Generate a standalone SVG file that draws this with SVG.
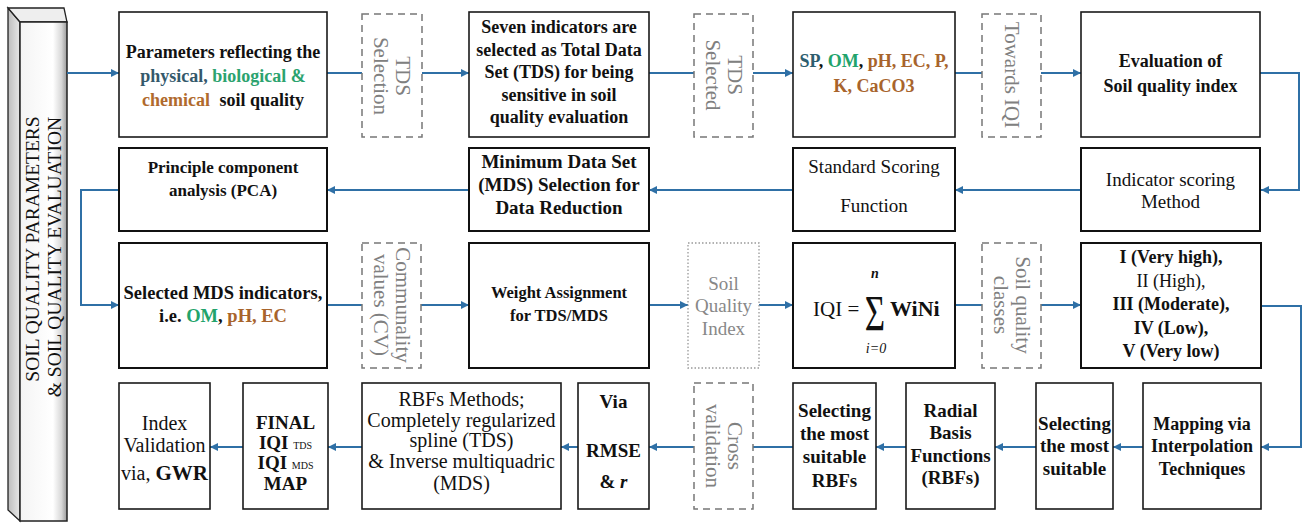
<svg xmlns="http://www.w3.org/2000/svg" width="1304" height="525" viewBox="0 0 1304 525">
<style>
.bx{fill:#fff;stroke:#1a1a1a;stroke-width:1.6}
.bx2{fill:#fff;stroke:#111;stroke-width:2}
.ds{fill:#fff;stroke:#777;stroke-width:1.5;stroke-dasharray:7 5}
.dt{fill:#fff;stroke:#999;stroke-width:1.3;stroke-dasharray:1.5 2}
.cn{fill:none;stroke:#2f70a6;stroke-width:2}
text{font-family:"Liberation Serif","Times New Roman",serif;fill:#111;text-anchor:middle}
.b{font-weight:bold}
.g{fill:#808080;font-size:21px}
.gq{fill:#888;font-size:19px}
.br{fill:#a8642c}
.f18{font-size:18px}
.f19{font-size:19px}
.f20{font-size:20px}
</style>
<defs>
<marker id="ah" viewBox="0 0 10 10" refX="10" refY="5" markerWidth="9" markerHeight="8" markerUnits="userSpaceOnUse" orient="auto">
<path d="M0,0 L10,5 L0,10 z" fill="#2f70a6"/>
</marker>
<linearGradient id="front" x1="0" y1="0" x2="1" y2="0">
<stop offset="0" stop-color="#f4f4f4"/>
<stop offset="0.7" stop-color="#ffffff"/>
<stop offset="0.88" stop-color="#d8d8d8"/>
<stop offset="1" stop-color="#9a9a9a"/>
</linearGradient>
<linearGradient id="side" x1="0" y1="0" x2="1" y2="0">
<stop offset="0" stop-color="#bdbdbd"/>
<stop offset="1" stop-color="#e8e8e8"/>
</linearGradient>
</defs>

<g id="bar">
<polygon points="8,8 20,22 20,521 8,510" fill="url(#side)" stroke="#222" stroke-width="1.3"/>
<polygon points="8,8 64,8 67,22 20,22" fill="#eeeeee" stroke="#222" stroke-width="1.3"/>
<rect x="20" y="22" width="47" height="499" fill="url(#front)" stroke="#222" stroke-width="1.5"/>
<text transform="translate(39,249) rotate(-90)" style="font-size:19.5px">SOIL QUALITY PARAMETERS</text>
<text transform="translate(61,257) rotate(-90)" style="font-size:19.5px">&amp; SOIL QUALITY EVALUATION</text>
</g>

<g id="connectors">
<path class="cn" d="M67,73 H119" marker-end="url(#ah)"/>
<path class="cn" d="M327,73 H362"/>
<path class="cn" d="M422,73 H469" marker-end="url(#ah)"/>
<path class="cn" d="M649,73 H694"/>
<path class="cn" d="M753,73 H793" marker-end="url(#ah)"/>
<path class="cn" d="M955,73 H982"/>
<path class="cn" d="M1041,73 H1081" marker-end="url(#ah)"/>
<path class="cn" d="M1260,73 H1299 V190 H1261" marker-end="url(#ah)"/>
<path class="cn" d="M1081,190 H955" marker-end="url(#ah)"/>
<path class="cn" d="M793,190 H649" marker-end="url(#ah)"/>
<path class="cn" d="M469,190 H327" marker-end="url(#ah)"/>
<path class="cn" d="M119,190 H81 V305 H119" marker-end="url(#ah)"/>
<path class="cn" d="M327,305 H362"/>
<path class="cn" d="M421,305 H469" marker-end="url(#ah)"/>
<path class="cn" d="M649,305 H688" marker-end="url(#ah)"/>
<path class="cn" d="M759,305 H793" marker-end="url(#ah)"/>
<path class="cn" d="M955,305 H982"/>
<path class="cn" d="M1041,305 H1081" marker-end="url(#ah)"/>
<path class="cn" d="M1261,306 H1301 V447 H1261" marker-end="url(#ah)"/>
<path class="cn" d="M1143,447 H1113" marker-end="url(#ah)"/>
<path class="cn" d="M1036,447 H995" marker-end="url(#ah)"/>
<path class="cn" d="M906,447 H876" marker-end="url(#ah)"/>
<path class="cn" d="M793,447 H753"/>
<path class="cn" d="M694,447 H649" marker-end="url(#ah)"/>
<path class="cn" d="M578,447 H561" marker-end="url(#ah)"/>
<path class="cn" d="M362,447 H328" marker-end="url(#ah)"/>
<path class="cn" d="M243,447 H210" marker-end="url(#ah)"/>
</g>

<g id="n-params">
<rect class="bx" x="119" y="12" width="208" height="125"/>
<text class="b f18" x="223" y="58">Parameters reflecting the</text>
<text class="b f18" x="223" y="82"><tspan fill="#34596b">physical,</tspan><tspan fill="#2ca36f"> biological &amp;</tspan></text>
<text class="b f18" x="223" y="106"><tspan fill="#b06a2d">chemical</tspan><tspan dx="5"> soil quality</tspan></text>
</g>

<g id="n-tds-selection">
<rect class="ds" x="362" y="14" width="60" height="123"/>
<text class="g" transform="translate(392,76) rotate(90)" dominant-baseline="central"><tspan x="0" y="-11">TDS</tspan><tspan x="0" y="11">Selection</tspan></text>
</g>

<g id="n-seven">
<rect class="bx" x="469" y="12" width="180" height="125"/>
<text class="b f18" x="559" y="33">Seven indicators are</text>
<text class="b f18" x="559" y="56">selected as Total Data</text>
<text class="b f18" x="559" y="78">Set (TDS) for being</text>
<text class="b f18" x="559" y="101">sensitive in soil</text>
<text class="b f18" x="559" y="123">quality evaluation</text>
</g>

<g id="n-tds-selected">
<rect class="ds" x="694" y="14" width="59" height="123"/>
<text class="g" transform="translate(723.5,75) rotate(90)" dominant-baseline="central"><tspan x="0" y="-11">TDS</tspan><tspan x="0" y="11">Selected</tspan></text>
</g>

<g id="n-indicators">
<rect class="bx" x="793" y="12" width="162" height="125"/>
<text class="b f18" x="874" y="67"><tspan fill="#2d5d6e">SP</tspan>, <tspan fill="#22a36b">OM</tspan>, <tspan fill="#a8642c">pH, EC, P,</tspan></text>
<text class="b f18 br" x="874" y="92">K, CaCO3</text>
</g>

<g id="n-towards">
<rect class="ds" x="982" y="14" width="59" height="123"/>
<text class="g" transform="translate(1011.5,75) rotate(90)" dominant-baseline="central">Towards IQI</text>
</g>

<g id="n-evaluation">
<rect class="bx" x="1081" y="12" width="179" height="125"/>
<text class="b f18" x="1170.5" y="67">Evaluation of</text>
<text class="b f18" x="1170.5" y="92">Soil quality index</text>
</g>

<g id="n-pca">
<rect class="bx2" x="119" y="148" width="208" height="83"/>
<text class="b" style="font-size:17px" x="223" y="173">Principle component</text>
<text class="b" style="font-size:17px" x="223" y="196">analysis (PCA)</text>
</g>

<g id="n-mds">
<rect class="bx2" x="469" y="148" width="180" height="83"/>
<text class="b" style="font-size:19px" x="559" y="168">Minimum Data Set</text>
<text class="b" style="font-size:19px" x="559" y="191">(MDS) Selection for</text>
<text class="b" style="font-size:19px" x="559" y="214">Data Reduction</text>
</g>

<g id="n-standard">
<rect class="bx2" x="793" y="148" width="162" height="83"/>
<text class="f19" x="874" y="173">Standard Scoring</text>
<text class="f19" x="874" y="212">Function</text>
</g>

<g id="n-scoring">
<rect class="bx2" x="1081" y="148" width="179" height="83"/>
<text class="f19" x="1170.5" y="186">Indicator scoring</text>
<text class="f19" x="1170.5" y="208">Method</text>
</g>

<g id="n-selected-mds">
<rect class="bx2" x="119" y="243" width="208" height="125"/>
<text class="b" style="font-size:18.5px" x="223" y="299">Selected MDS indicators,</text>
<text class="b" style="font-size:18.5px" x="223" y="322">i.e. <tspan fill="#22a36b">OM</tspan>, <tspan fill="#a8642c">pH, EC</tspan></text>
</g>

<g id="n-communality">
<rect class="ds" x="362" y="243" width="59" height="125"/>
<text class="g" transform="translate(391.5,305) rotate(90)" dominant-baseline="central"><tspan x="0" y="-11">Communality</tspan><tspan x="0" y="11">values (CV)</tspan></text>
</g>

<g id="n-weight">
<rect class="bx2" x="469" y="243" width="180" height="125"/>
<text class="b" style="font-size:16.5px" x="559" y="298">Weight Assignment</text>
<text class="b" style="font-size:16.5px" x="559" y="321">for TDS/MDS</text>
</g>

<g id="n-sqi">
<rect class="dt" x="688" y="243" width="71" height="125"/>
<text class="gq" x="723.5" y="290">Soil</text>
<text class="gq" x="723.5" y="312">Quality</text>
<text class="gq" x="723.5" y="335">Index</text>
</g>

<g id="n-iqi">
<rect class="bx2" x="793" y="243" width="162" height="125"/>
<text style="font-size:21px;text-anchor:start" x="813" y="316">IQI =</text>
<text transform="translate(875,330) scale(0.7,1)" style="font-size:50px">Σ</text>
<text style="font-size:14px;font-style:italic;font-weight:bold" x="875" y="278">n</text>
<text style="font-size:14px;font-style:italic" x="876" y="353">i=0</text>
<text class="b" style="font-size:22px;text-anchor:start" x="890" y="316">WiNi</text>
</g>

<g id="n-classes-label">
<rect class="ds" x="982" y="243" width="59" height="125"/>
<text class="g" transform="translate(1011.5,305) rotate(90)" dominant-baseline="central"><tspan x="0" y="-11">Soil quality</tspan><tspan x="0" y="11">classes</tspan></text>
</g>

<g id="n-classes">
<rect class="bx2" x="1081" y="243" width="180" height="125"/>
<text class="b f18" x="1171" y="263">I (Very high),</text>
<text class="f18" x="1171" y="287">II (High),</text>
<text class="b f18" x="1171" y="310">III (Moderate),</text>
<text class="b f18" x="1171" y="334">IV (Low),</text>
<text class="b f18" x="1171" y="357">V (Very low)</text>
</g>

<g id="n-index-validation">
<rect class="bx" x="119" y="383" width="91" height="126"/>
<text class="f20" x="164.5" y="430">Index</text>
<text class="f20" x="164.5" y="452">Validation</text>
<text class="f20" x="164.5" y="480">via, <tspan class="b" style="font-size:21px">GWR</tspan></text>
</g>

<g id="n-final">
<rect class="bx" x="243" y="383" width="85" height="126"/>
<text class="b f19" x="285.5" y="429">FINAL</text>
<text class="b f19" x="285.5" y="449">IQI <tspan style="font-size:10px;font-weight:normal">TDS</tspan></text>
<text class="b f19" x="285.5" y="469">IQI <tspan style="font-size:10px;font-weight:normal">MDS</tspan></text>
<text class="b f19" x="285.5" y="490">MAP</text>
</g>

<g id="n-rbf-methods">
<rect class="bx" x="362" y="383" width="199" height="126"/>
<text class="f20" x="461.5" y="406">RBFs Methods;</text>
<text class="f20" x="461.5" y="427">Completely regularized</text>
<text class="f20" x="461.5" y="447">spline (TDS)</text>
<text class="f20" x="461.5" y="468">&amp; Inverse multiquadric</text>
<text class="f20" x="461.5" y="490">(MDS)</text>
</g>

<g id="n-via">
<rect class="bx" x="578" y="383" width="71" height="126"/>
<text class="b f19" x="613.5" y="408">Via</text>
<text class="b f19" x="613.5" y="457">RMSE</text>
<text class="b f19" x="613.5" y="488">&amp;  <tspan font-style="italic">r</tspan></text>
</g>

<g id="n-cross">
<rect class="ds" x="694" y="383" width="59" height="126"/>
<text class="g" transform="translate(723.5,446) rotate(90)" dominant-baseline="central"><tspan x="0" y="-11">Cross</tspan><tspan x="0" y="11">validation</tspan></text>
</g>

<g id="n-selecting-rbfs">
<rect class="bx" x="793" y="383" width="83" height="126"/>
<text class="b f19" x="834.5" y="417">Selecting</text>
<text class="b f19" x="834.5" y="440">the most</text>
<text class="b f19" x="834.5" y="463">suitable</text>
<text class="b f19" x="834.5" y="487">RBFs</text>
</g>

<g id="n-radial">
<rect class="bx" x="906" y="383" width="89" height="126"/>
<text class="b f19" x="950.5" y="417">Radial</text>
<text class="b f19" x="950.5" y="439">Basis</text>
<text class="b f19" x="950.5" y="462">Functions</text>
<text class="b f19" x="950.5" y="484">(RBFs)</text>
</g>

<g id="n-selecting">
<rect class="bx" x="1036" y="383" width="77" height="126"/>
<text class="b f19" x="1074.5" y="430">Selecting</text>
<text class="b f19" x="1074.5" y="452">the most</text>
<text class="b f19" x="1074.5" y="475">suitable</text>
</g>

<g id="n-mapping">
<rect class="bx" x="1143" y="383" width="118" height="126"/>
<text class="b f18" x="1202" y="430">Mapping via</text>
<text class="b f18" x="1202" y="452">Interpolation</text>
<text class="b f18" x="1202" y="475">Techniques</text>
</g>
</svg>
